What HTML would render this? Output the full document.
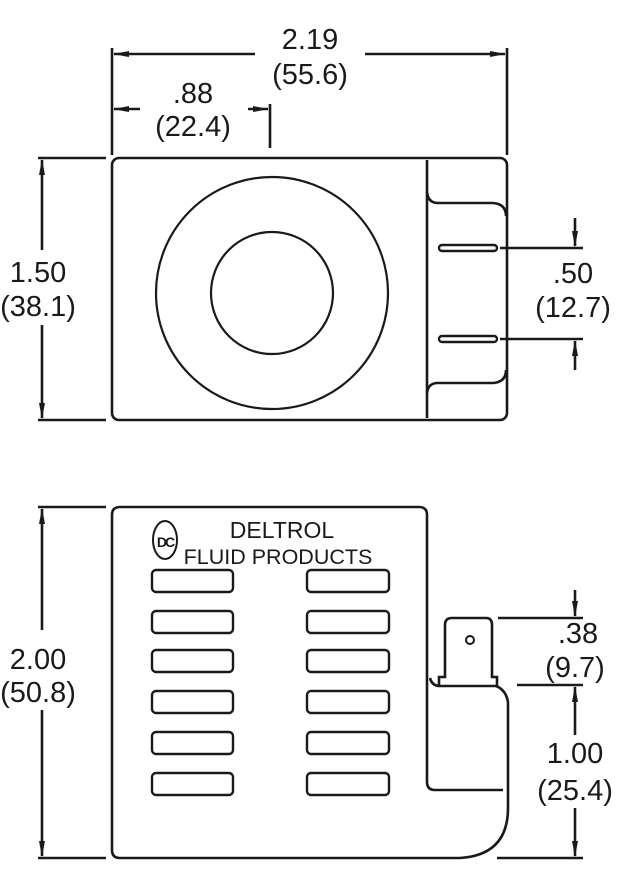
<!DOCTYPE html>
<html><head><style>html,body{margin:0;padding:0;background:#fff}svg{display:block}text{font-family:"Liberation Sans",sans-serif;fill:#1a1a1a}</style></head>
<body>
<svg width="636" height="884" viewBox="0 0 636 884" xmlns="http://www.w3.org/2000/svg">
<defs>
<marker id="a" markerWidth="16" markerHeight="8" refX="15" refY="4" orient="auto" markerUnits="userSpaceOnUse"><path d="M0,1 L16,4 L0,7 Z" fill="#1a1a1a"/></marker>
</defs>
<g stroke="#1a1a1a" fill="none" stroke-width="2.6">
<line x1="112" y1="48" x2="112" y2="155"/>
<line x1="507" y1="48" x2="507" y2="155"/>
<line x1="255" y1="54" x2="114" y2="54" marker-end="url(#a)"/>
<line x1="365" y1="54" x2="505" y2="54" marker-end="url(#a)"/>
<line x1="270" y1="104" x2="270" y2="148"/>
<line x1="140" y1="109" x2="114" y2="109" marker-end="url(#a)"/>
<line x1="248" y1="109" x2="268" y2="109" marker-end="url(#a)"/>
<line x1="38" y1="158" x2="106" y2="158"/>
<line x1="38" y1="420" x2="106" y2="420"/>
<line x1="42" y1="250" x2="42" y2="160" marker-end="url(#a)"/>
<line x1="42" y1="325" x2="42" y2="418" marker-end="url(#a)"/>
<rect x="112" y="158" width="395" height="262" rx="7"/>
<line x1="427" y1="160" x2="427" y2="418"/>
<circle cx="272" cy="293" r="116" stroke-width="2.2"/>
<circle cx="272" cy="293" r="61" stroke-width="2.2"/>
<path d="M427,192 Q428,203 438,203 L493,203 Q506,204 506,216"/>
<path d="M427,393 Q428,383 438,383 L493,383 Q506,382 506,370"/>
<rect x="439" y="245" width="58" height="6" rx="3" stroke-width="2.4"/>
<rect x="439" y="336" width="58" height="6" rx="3" stroke-width="2.4"/>
<line x1="500" y1="248" x2="583" y2="248"/>
<line x1="500" y1="339" x2="583" y2="339"/>
<line x1="575" y1="218" x2="575" y2="246" marker-end="url(#a)"/>
<line x1="575" y1="370" x2="575" y2="341" marker-end="url(#a)"/>
<line x1="38" y1="507" x2="106" y2="507"/>
<line x1="38" y1="858" x2="106" y2="858"/>
<line x1="42" y1="630" x2="42" y2="509" marker-end="url(#a)"/>
<line x1="42" y1="710" x2="42" y2="856" marker-end="url(#a)"/>
<path d="M112,515 Q112,507 120,507 L419,507 Q427,507 427,515 L427,782 Q427,790 435,790 L503,790"/>
<path d="M112,515 L112,850 Q112,858 120,858 L460,858 Q508,855 508,808 L508,702 Q506,690 496,686"/>
<path d="M430,678 Q432,686 440,686 L496,686"/>
<path d="M439,686 L439,677 L445,677 L445,625 Q445,618 452,618 L486,618 Q492,618 492,625 L492,677 L497,677 L497,686"/>
<circle cx="470" cy="640" r="4" stroke-width="2"/>
<g stroke-width="2.4">
<rect x="152" y="570" width="81" height="22" rx="4"/><rect x="307" y="570" width="82" height="22" rx="4"/>
<rect x="152" y="611" width="81" height="22" rx="4"/><rect x="307" y="611" width="82" height="22" rx="4"/>
<rect x="152" y="650" width="81" height="22" rx="4"/><rect x="307" y="650" width="82" height="22" rx="4"/>
<rect x="152" y="691" width="81" height="22" rx="4"/><rect x="307" y="691" width="82" height="22" rx="4"/>
<rect x="152" y="732" width="81" height="22" rx="4"/><rect x="307" y="732" width="82" height="22" rx="4"/>
<rect x="152" y="773" width="81" height="22" rx="4"/><rect x="307" y="773" width="82" height="22" rx="4"/>
</g>
<ellipse cx="165" cy="540" rx="12" ry="19" stroke-width="2"/>
<line x1="498" y1="618" x2="583" y2="618"/>
<line x1="517" y1="685" x2="583" y2="685"/>
<line x1="497" y1="858" x2="583" y2="858"/>
<line x1="575" y1="590" x2="575" y2="616" marker-end="url(#a)"/>
<line x1="575" y1="735" x2="575" y2="687" marker-end="url(#a)"/>
<line x1="575" y1="808" x2="575" y2="856" marker-end="url(#a)"/>
</g>
<g font-size="29" text-anchor="middle">
<text x="310" y="49">2.19</text><text x="310" y="84">(55.6)</text>
<text x="193" y="103">.88</text><text x="193" y="136">(22.4)</text>
<text x="38" y="282">1.50</text><text x="38" y="316">(38.1)</text>
<text x="573" y="283">.50</text><text x="573" y="317">(12.7)</text>
<text x="38" y="669">2.00</text><text x="38" y="702">(50.8)</text>
<text x="578" y="643">.38</text><text x="575" y="677">(9.7)</text>
<text x="575" y="763">1.00</text><text x="575" y="800">(25.4)</text>
</g>
<text x="282" y="538" font-size="23" text-anchor="middle">DELTROL</text>
<text x="278" y="564" font-size="21.5" text-anchor="middle">FLUID PRODUCTS</text>
<text x="165" y="547" font-size="14" text-anchor="middle" font-family="Liberation Serif" font-weight="bold" letter-spacing="-2">DC</text>
</svg>
</body></html>
